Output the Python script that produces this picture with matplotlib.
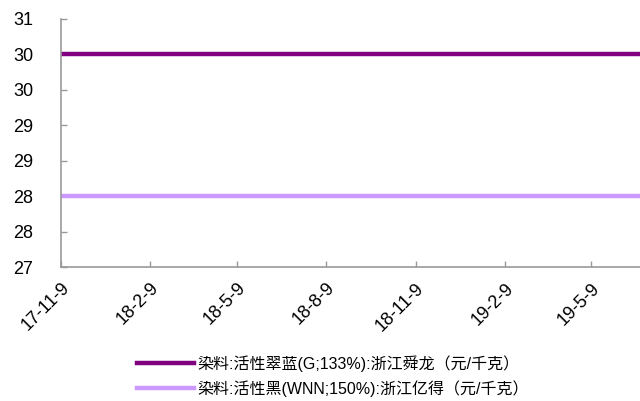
import numpy as np
import pandas as pd
import matplotlib
matplotlib.use('Agg')
import matplotlib.pyplot as plt

plt.rcParams['font.family'] = ['Liberation Sans', 'Noto Sans CJK SC', 'DejaVu Sans']

# data (flat lines over the whole period)
dates = pd.to_datetime(['2017-11-09', '2018-02-09', '2018-05-09', '2018-08-09',
                        '2018-11-09', '2019-02-09', '2019-05-09', '2019-06-28'])
blue_g = [30.43, 30.43, 30.43, 30.43, 30.43, 30.43, 30.43, 30.43]
black_wnn = [28.14, 28.14, 28.14, 28.14, 28.14, 28.14, 28.14, 28.14]
names = ['染料:活性翠蓝(G;133%):浙江舜龙（元/千克）',
         '染料:活性黑(WNN;150%):浙江亿得（元/千克）']
xtick_dates = pd.to_datetime(['2017-11-09', '2018-02-09', '2018-05-09', '2018-08-09',
                              '2018-11-09', '2019-02-09', '2019-05-09'])
xtick_labels = ['17-11-9', '18-2-9', '18-5-9', '18-8-9', '18-11-9', '19-2-9', '19-5-9']

fig = plt.figure(figsize=(6.4, 4.01), dpi=100)
ax = fig.add_axes([0.0953, 0.334, 0.9047, 0.619])

l1, = ax.plot(dates, blue_g, color='#800080', lw=3.2)
l2, = ax.plot(dates, black_wnn, color='#CC99FF', lw=3.2)

ax.set_xlim(dates[0], dates[-1])
ax.set_ylim(27, 31)
yt = np.linspace(27, 31, 8)
ax.set_yticks(yt)
ax.set_yticklabels([str(int(round(v))) for v in yt], fontsize=13)
ax.set_xticks(xtick_dates)
ax.set_xticklabels(xtick_labels, rotation=45, ha='right', va='top',
                   rotation_mode='anchor', fontsize=13)

for s in ['top', 'right']:
    ax.spines[s].set_visible(False)
for s in ['left', 'bottom']:
    ax.spines[s].set_color('#999999')
    ax.spines[s].set_linewidth(1.2)
ax.tick_params(axis='both', direction='in', length=4, color='#999999', width=1)
ax.tick_params(axis='y', pad=20)
ax.tick_params(axis='x', pad=9)

fig.legend([l1, l2], names, loc='upper center', bbox_to_anchor=(0.52, 0.15),
           ncol=1, frameon=False, handlelength=3.6,
           handletextpad=0.2, labelspacing=0.5,
           prop={'family': ['Liberation Sans', 'Noto Sans CJK SC'], 'size': 11.5})

fig.savefig('out.png', dpi=100)
